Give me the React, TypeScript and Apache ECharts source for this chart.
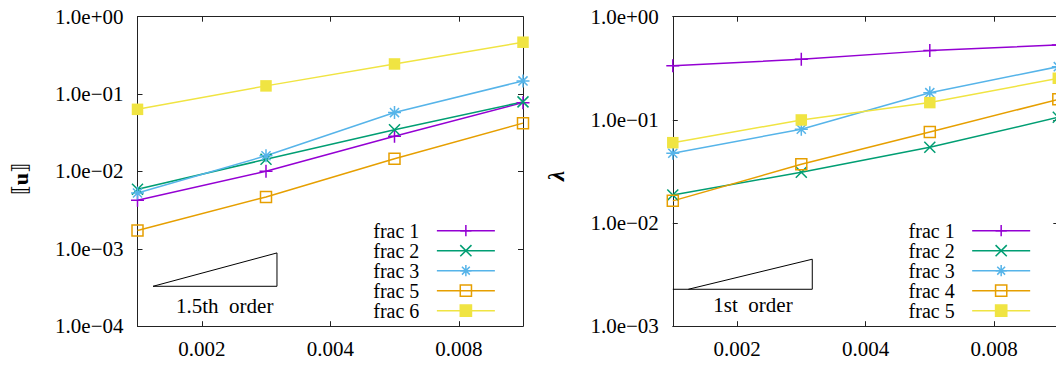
import { useEffect, useRef } from 'react';
import * as echarts from 'echarts';

// mesh sizes h (x values) and tick labels
const hValues = [0.0014142, 0.0028284, 0.0056569, 0.0113137];
const xTickValues = [0.002, 0.004, 0.008];

// left panel: jump [[u]] error
const leftNames = ['frac 1', 'frac 2', 'frac 3', 'frac 5', 'frac 6'];
const leftFrac1 = [0.00425, 0.01007, 0.0285, 0.0775];
const leftFrac2 = [0.00589, 0.01436, 0.0345, 0.0793];
const leftFrac3 = [0.00526, 0.01595, 0.0577, 0.148];
const leftFrac5 = [0.00173, 0.00468, 0.01459, 0.0421];
const leftFrac6 = [0.0635, 0.1276, 0.245, 0.468];

// right panel: lambda error
const rightNames = ['frac 1', 'frac 2', 'frac 3', 'frac 4', 'frac 5'];
const rightFrac1 = [0.335, 0.386, 0.469, 0.533];
const rightFrac2 = [0.0187, 0.0311, 0.0542, 0.106];
const rightFrac3 = [0.0475, 0.0811, 0.1835, 0.328];
const rightFrac4 = [0.0164, 0.0371, 0.0763, 0.158];
const rightFrac5 = [0.0601, 0.0998, 0.147, 0.253];

// order triangles
const leftTriX = [0.001538, 0.003001, 0.003001, 0.001538];
const leftTriY = [3.28e-4, 3.28e-4, 8.85e-4, 3.28e-4];
const rightTriX = [0.0014142, 0.003001, 0.003001, 0.001538];
const rightTriY = [2.28e-3, 2.28e-3, 4.46e-3, 2.28e-3];

const FONT = 'Liberation Serif';
const C = {
  purple: '#9400d3',
  green: '#009e73',
  cyan: '#56b4e9',
  orange: '#e69f00',
  yellow: '#f0e442',
};
const MARK: Record<string, string> = {
  plus: 'path://M0,5L10,5M5,0L5,10',
  cross: 'path://M0,0L10,10M0,10L10,0',
  star: 'path://M0,5L10,5M5,0L5,10M1.5,1.5L8.5,8.5M1.5,8.5L8.5,1.5',
  box: 'path://M0,0L10,0L10,10L0,10Z',
  filled: 'rect',
};
const SIZE: Record<string, number> = { plus: 13, cross: 11, star: 13, box: 11, filled: 11.5 };

const toL = (x: number) => Math.log2(x / 0.001);
const fmtX = (v: number) => (0.001 * Math.pow(2, v)).toFixed(3);
const fmtY = (v: number) => {
  const e = Math.round(Math.log10(v));
  return '1.0e' + (e < 0 ? '\u2212' : '+') + String(Math.abs(e)).padStart(2, '0');
};

function xAxes(gi: number) {
  const common: any = {
    type: 'value',
    gridIndex: gi,
    min: toL(hValues[0]),
    max: toL(hValues[hValues.length - 1]),
    splitLine: { show: false },
    axisLine: { show: true, onZero: false, lineStyle: { color: '#222', width: 1 } },
    axisTick: {
      show: true,
      inside: true,
      length: 5,
      customValues: xTickValues.map(toL),
      lineStyle: { color: '#222', width: 1 },
    },
  };
  return [
    {
      ...common,
      position: 'bottom',
      axisLabel: {
        show: true,
        customValues: xTickValues.map(toL),
        formatter: fmtX,
        fontSize: 21,
        fontFamily: FONT,
        color: '#000',
        margin: 12,
      },
    },
    { ...common, position: 'top', axisLabel: { show: false } },
  ];
}

function yAxes(gi: number, min: number, split: number) {
  const common: any = {
    type: 'log',
    logBase: 10,
    gridIndex: gi,
    min,
    max: 1,
    splitNumber: split,
    splitLine: { show: false },
    minorTick: { show: false },
    axisLine: { show: true, lineStyle: { color: '#222', width: 1 } },
    axisTick: { show: true, inside: true, length: 5, lineStyle: { color: '#222', width: 1 } },
  };
  return [
    {
      ...common,
      position: 'left',
      axisLabel: { formatter: fmtY, fontSize: 21, fontFamily: FONT, color: '#000', margin: 14 },
    },
    { ...common, position: 'right', axisLabel: { show: false } },
  ];
}

function mk(name: string, vals: number[], color: string, kind: string, xi: number, yi: number) {
  const filled = kind === 'filled';
  return {
    type: 'line',
    name,
    xAxisIndex: xi,
    yAxisIndex: yi,
    data: hValues.map((h, i) => [toL(h), vals[i]]),
    symbol: MARK[kind],
    symbolSize: SIZE[kind],
    showSymbol: true,
    clip: false,
    lineStyle: { color, width: 1.5 },
    itemStyle: filled
      ? { color, borderColor: color, borderWidth: 0 }
      : { color: 'none', borderColor: color, borderWidth: 1.5 },
    emphasis: { disabled: true },
    z: 3,
  };
}

function tri(xs: number[], ys: number[], xi: number, yi: number) {
  return {
    type: 'line',
    name: 'tri' + xi,
    xAxisIndex: xi,
    yAxisIndex: yi,
    data: xs.map((x, i) => [toL(x), ys[i]]),
    symbol: 'none',
    clip: false,
    silent: true,
    lineStyle: { color: '#000', width: 1 },
    emphasis: { disabled: true },
    z: 2,
  };
}

function legend(names: string[], suffix: string, left: number, top: number) {
  return {
    orient: 'vertical',
    left,
    top,
    padding: 0,
    itemGap: 0,
    itemWidth: 58,
    itemHeight: 14,
    align: 'right',
    selectedMode: false,
    data: names.map((n) => n + suffix),
    formatter: (n: string) => `{a|${n.split('#')[0]}}`,
    lineStyle: { width: 1.5 },
    itemStyle: { borderWidth: 1.5 },
    textStyle: {
      color: '#000',
      fontSize: 20,
      fontFamily: FONT,
      rich: {
        a: { fontSize: 20, fontFamily: FONT, lineHeight: 20, padding: [0, 12.5, 0, 0], color: '#000' },
      },
    },
  };
}

export default function App() {
  const ref = useRef<HTMLDivElement>(null);
  useEffect(() => {
    if (!ref.current) return;
    const chart = echarts.init(ref.current, undefined, { renderer: 'svg' });
    const R = '#r';
    const option: any = {
      animation: false,
      backgroundColor: '#fff',
      grid: [
        { left: 137.5, top: 16.7, width: 385.5, height: 309.5, containLabel: false },
        { left: 672.8, top: 16.7, width: 385.5, height: 309.5, containLabel: false },
      ],
      xAxis: [...xAxes(0), ...xAxes(1)],
      yAxis: [...yAxes(0, 1e-4, 4), ...yAxes(1, 1e-3, 3)],
      legend: [legend(leftNames, '', 373.3, 220.7), legend(rightNames, R, 908.6, 220.7)],
      series: [
        tri(leftTriX, leftTriY, 0, 0),
        tri(rightTriX, rightTriY, 2, 2),
        mk('frac 1', leftFrac1, C.purple, 'plus', 0, 0),
        mk('frac 2', leftFrac2, C.green, 'cross', 0, 0),
        mk('frac 3', leftFrac3, C.cyan, 'star', 0, 0),
        mk('frac 5', leftFrac5, C.orange, 'box', 0, 0),
        mk('frac 6', leftFrac6, C.yellow, 'filled', 0, 0),
        mk('frac 1' + R, rightFrac1, C.purple, 'plus', 2, 2),
        mk('frac 2' + R, rightFrac2, C.green, 'cross', 2, 2),
        mk('frac 3' + R, rightFrac3, C.cyan, 'star', 2, 2),
        mk('frac 4' + R, rightFrac4, C.orange, 'box', 2, 2),
        mk('frac 5' + R, rightFrac5, C.yellow, 'filled', 2, 2),
      ],
      graphic: [
        {
          type: 'text',
          x: 20,
          y: 179,
          rotation: Math.PI / 2,
          style: {
            text: '{b|\u27e6}{u|u}{b|\u27e7}',
            align: 'center',
            verticalAlign: 'middle',
            fill: '#000',
            rich: {
              b: { fontSize: 21, fontFamily: 'DejaVu Serif', fill: '#000' },
              u: { fontSize: 22, fontFamily: FONT, fontWeight: 'bold', fill: '#000' },
            },
          },
        },
        {
          type: 'text',
          x: 556,
          y: 176,
          rotation: Math.PI / 2,
          style: {
            text: '\u03bb',
            align: 'center',
            verticalAlign: 'middle',
            fill: '#000',
            fontSize: 23,
            fontFamily: FONT,
            fontStyle: 'italic',
            fontWeight: 'bold',
          },
        },
        {
          type: 'text',
          x: 224.7,
          y: 306,
          style: {
            text: '1.5th\u00a0 order',
            align: 'center',
            verticalAlign: 'middle',
            fill: '#000',
            fontSize: 21,
            fontFamily: FONT,
          },
        },
        {
          type: 'text',
          x: 753,
          y: 305,
          style: {
            text: '1st\u00a0 order',
            align: 'center',
            verticalAlign: 'middle',
            fill: '#000',
            fontSize: 21,
            fontFamily: FONT,
          },
        },
      ],
    };
    chart.setOption(option);
    return () => chart.dispose();
  }, []);
  return (
    <div
      style={{
        position: 'fixed',
        left: 0,
        top: 0,
        width: 1056,
        height: 365,
        overflow: 'hidden',
        background: '#fff',
      }}
    >
      <div ref={ref} style={{ width: 1090, height: 365 }} />
    </div>
  );
}
